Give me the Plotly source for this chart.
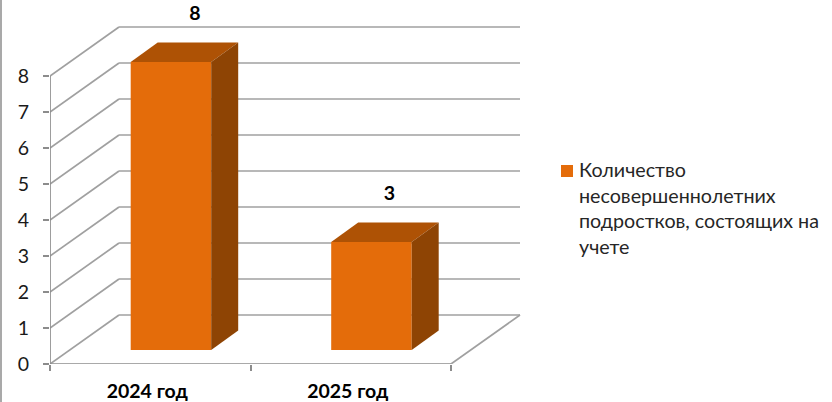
import plotly.graph_objects as go

categories = ["2024 год", "2025 год"]
values = [8, 3]
series_lines = ["Количество", "несовершеннолетних", "подростков, состоящих на", "учете"]
y_ticks = [0, 1, 2, 3, 4, 5, 6, 7, 8]
label_nudge_px = [24, 18]

W, H = 832, 402
LEFT, RIGHT, BOTTOM = 50, 530, 364
CAT_PX = 200.5
UNIT_PX = 36.0
X0 = -0.5
X1 = X0 + (RIGHT - LEFT) / CAT_PX
Y1 = BOTTOM / UNIT_PX

WALL_DX = 69 / CAT_PX
WALL_DY = 49 / UNIT_PX
DEPTH_DX = 27 / CAT_PX
DEPTH_DY = 19.5 / UNIT_PX
BAR_SHIFT = 20.7 / CAT_PX
BAR_BASE = 14 / UNIT_PX
BAR_W = 80.5 / CAT_PX

GRID = "#a0a0a0"
AXIS = "#8c8c8c"
FRONT = "#E46C0A"
TOP = "#AE5205"
SIDE = "#8E4404"
FONT = "Lato"

fig = go.Figure()
xs = list(range(len(categories)))

fig.add_trace(go.Bar(
    x=[i + BAR_SHIFT for i in xs], y=values, base=BAR_BASE, width=BAR_W,
    name=" ".join(series_lines), marker=dict(color=FRONT, line=dict(width=0)),
    hoverinfo="skip", showlegend=False,
))

for i, v in zip(xs, values):
    l = i + BAR_SHIFT - BAR_W / 2
    r = i + BAR_SHIFT + BAR_W / 2
    b = BAR_BASE
    t = BAR_BASE + v
    fig.add_trace(go.Scatter(
        x=[l, r, r + DEPTH_DX, l + DEPTH_DX, l],
        y=[t, t, t + DEPTH_DY, t + DEPTH_DY, t],
        mode="lines", fill="toself", fillcolor=TOP, line=dict(width=0),
        showlegend=False, hoverinfo="skip"))
    fig.add_trace(go.Scatter(
        x=[r, r + DEPTH_DX, r + DEPTH_DX, r, r],
        y=[t, t + DEPTH_DY, b + DEPTH_DY, b, t],
        mode="lines", fill="toself", fillcolor=SIDE, line=dict(width=0),
        showlegend=False, hoverinfo="skip"))

fig.add_trace(go.Scatter(
    x=[i + BAR_SHIFT + n / CAT_PX for i, n in zip(xs, label_nudge_px)],
    y=[v + BAR_BASE + 46.5 / UNIT_PX for v in values],
    text=[str(v) for v in values], mode="text",
    textfont=dict(family=FONT, size=19.5, color="#000000", weight="bold"),
    textposition="middle center", showlegend=False, hoverinfo="skip"))

shapes = []
def seg(x0, y0, x1, y1, color=GRID, width=1.7):
    shapes.append(dict(type="line", xref="x", yref="y", x0=x0, y0=y0, x1=x1, y1=y1,
                       layer="below", line=dict(color=color, width=width)))

right_front = X0 + len(categories)
for t in y_ticks:
    seg(X0, t, X0 + WALL_DX, t + WALL_DY)
    seg(X0 + WALL_DX, t + WALL_DY, right_front + WALL_DX, t + WALL_DY)
seg(right_front, 0, right_front + WALL_DX, WALL_DY)
seg(X0, 0, right_front, 0, AXIS)
seg(X0, 0, X0, y_ticks[-1], AXIS)

def px(x):
    return (x - LEFT) / (RIGHT - LEFT)
def py(y):
    return (BOTTOM - y) / BOTTOM

shapes.append(dict(type="line", xref="paper", yref="paper", x0=px(1), x1=px(1),
                   y0=py(H), y1=py(0), line=dict(color="#8c8c8c", width=1.5)))
# legend swatch
shapes.append(dict(type="rect", xref="paper", yref="paper", x0=px(561), x1=px(573),
                   y0=py(177), y1=py(165), fillcolor=FRONT, line=dict(width=0)))

fig.update_layout(
    width=W, height=H, autosize=False,
    margin=dict(l=LEFT, r=W - RIGHT, t=0, b=H - BOTTOM, pad=0),
    paper_bgcolor="white", plot_bgcolor="white",
    font=dict(family=FONT, size=19.5, color="#1a1a1a"),
    shapes=shapes, showlegend=False,
    annotations=[dict(xref="paper", yref="paper", x=px(578), y=py(157), xanchor="left", yanchor="top",
                      align="left", showarrow=False, borderpad=0,
                      text="<br>".join(series_lines),
                      font=dict(family=FONT, size=19.7, color="#262626"))],
    xaxis=dict(range=[X0, X1], showgrid=False, zeroline=False, showline=False,
               tickmode="array", tickvals=[i - 3 / CAT_PX for i in xs], ticktext=categories, ticks="",
               ticklabelstandoff=13,
               tickfont=dict(family=FONT, size=19.5, color="#000000", weight="bold"),
               minor=dict(tickmode="array", tickvals=[X0, X0 + 1, X0 + 2],
                          ticks="outside", ticklen=6, tickcolor=AXIS, tickwidth=1.5, showgrid=False)),
    yaxis=dict(range=[0, Y1], showgrid=False, zeroline=False, showline=False,
               tickmode="array", tickvals=y_ticks, ticks="outside", ticklen=6,
               tickcolor=AXIS, tickwidth=1.5, ticklabelstandoff=10,
               tickfont=dict(family=FONT, size=19.5, color="#1a1a1a")),
)

fig.write_html("out.html", config={"displayModeBar": False},
               post_script="document.body.style.margin='0';document.documentElement.style.overflow='hidden';")
